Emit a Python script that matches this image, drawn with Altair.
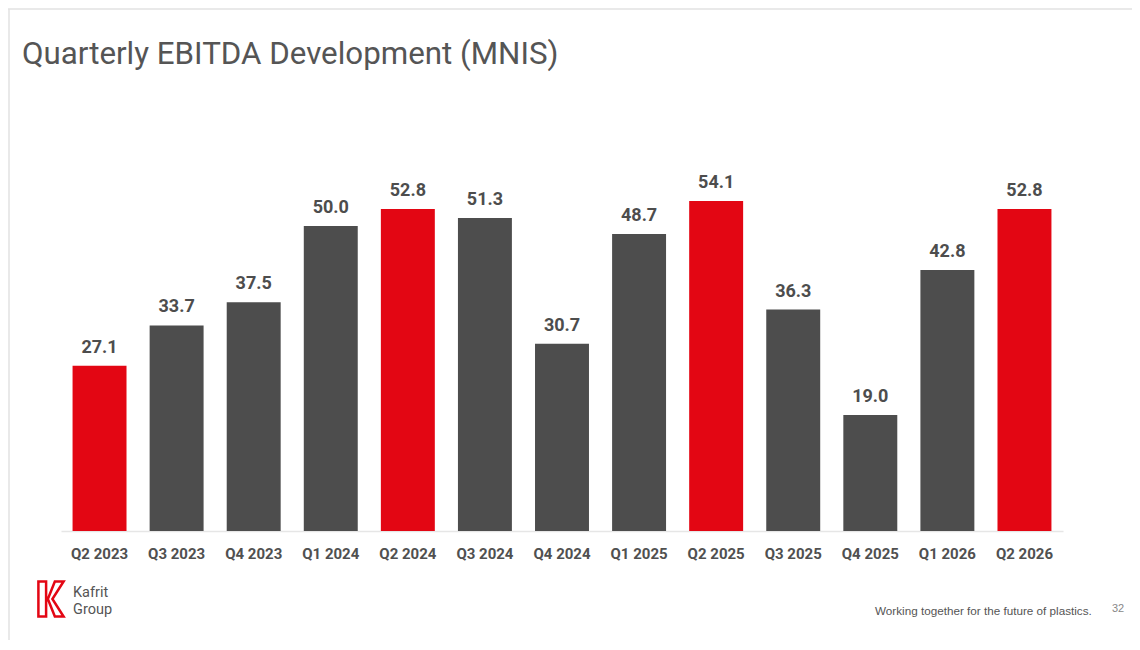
import altair as alt
import pandas as pd

quarters = ["Q2 2023", "Q3 2023", "Q4 2023", "Q1 2024", "Q2 2024", "Q3 2024", "Q4 2024",
            "Q1 2025", "Q2 2025", "Q3 2025", "Q4 2025", "Q1 2026", "Q2 2026"]
ebitda = [27.1, 33.7, 37.5, 50.0, 52.8, 51.3, 30.7, 48.7, 54.1, 36.3, 19.0, 42.8, 52.8]
group = ["Q2" if q.startswith("Q2") else "Other" for q in quarters]

title_text = "Quarterly EBITDA Development (MNIS)"
footer_text = "Working together for the future of plastics."
page_num = "32"
logo_text = "Kafrit\nGroup"

RED = "#e30613"
GREY = "#4d4d4d"
TXT = "#4d4d4d"

df = pd.DataFrame({"quarter": quarters, "ebitda": ebitda, "group": group})

W, H = 1002, 427

x = alt.X("quarter:N", sort=quarters, title=None,
          scale=alt.Scale(paddingInner=0.3, paddingOuter=0.15),
          axis=alt.Axis(labelAngle=0, labelFont="Roboto", labelFontSize=15, labelFontWeight="bold",
                        labelColor="#505050", labelPadding=15, ticks=False,
                        domainColor="#e6e6e6", domainWidth=1.5, grid=False))
y = alt.Y("ebitda:Q", title=None, scale=alt.Scale(domain=[0, 70]), axis=None)

bars = alt.Chart(df).mark_bar().encode(
    x=x, y=y,
    color=alt.Color("group:N", scale=alt.Scale(domain=["Q2", "Other"], range=[RED, GREY]), legend=None),
)
labels = alt.Chart(df).mark_text(font="Roboto", fontSize=18, fontWeight="bold", color=TXT,
                                 baseline="alphabetic", dy=-13).encode(
    x=alt.X("quarter:N", sort=quarters), y=y, text=alt.Text("ebitda:Q", format=".1f"))

# decorations (positions relative to plot origin)
title = alt.Chart(pd.DataFrame({"t": [title_text]})).mark_text(
    font="Roboto", fontSize=31.3, color="#555555", align="left", baseline="alphabetic").encode(
    x=alt.value(-39), y=alt.value(-40), text="t:N")
footer = alt.Chart(pd.DataFrame({"t": [footer_text]})).mark_text(
    font="Liberation Sans", fontSize=11.7, color="#555555", align="left", baseline="middle").encode(
    x=alt.value(814), y=alt.value(507), text="t:N")
pnum = alt.Chart(pd.DataFrame({"t": [page_num]})).mark_text(
    font="Liberation Sans", fontSize=11, color="#888888", align="left", baseline="middle").encode(
    x=alt.value(1051), y=alt.value(505), text="t:N")
logo_t = alt.Chart(pd.DataFrame({"t": [logo_text]})).mark_text(
    font="Roboto", fontSize=14.5, color="#555555", align="left", baseline="alphabetic",
    lineBreak="\n", lineHeight=16.5).encode(
    x=alt.value(12), y=alt.value(493), text="t:N")
kpath = ("M -0.72 -1 L -0.28 -1 L -0.28 1 L -0.72 1 Z "
         "M 0.22 -1 L 0.72 -1 L 0.08 0 L 0.72 1 L 0.22 1 L -0.18 0 Z")
logo_k = alt.Chart(pd.DataFrame({"k": [1]})).mark_point(
    shape=kpath, filled=False, stroke=RED, strokeWidth=2.5, size=1225, opacity=1).encode(
    x=alt.value(-10), y=alt.value(495))
frame_top = alt.Chart(pd.DataFrame({"k": [1]})).mark_rule(color="#e2e2e2", strokeWidth=1.5).encode(
    x=alt.value(-53), x2=alt.value(1071), y=alt.value(-95))
frame_left = alt.Chart(pd.DataFrame({"k": [1]})).mark_rule(color="#e2e2e2", strokeWidth=1.5).encode(
    x=alt.value(-52), y=alt.value(-95), y2=alt.value(536))

chart = alt.layer(frame_top, frame_left, bars, labels, title, footer, pnum, logo_t, logo_k).properties(
    width=W, height=H,
    autosize=alt.AutoSizeParams(type="none"),
    padding={"left": 53, "top": 96, "right": 69, "bottom": 111},
    background="white",
).configure_view(stroke=None)

chart.save("out.html", embed_options={"renderer": "svg", "actions": False})
